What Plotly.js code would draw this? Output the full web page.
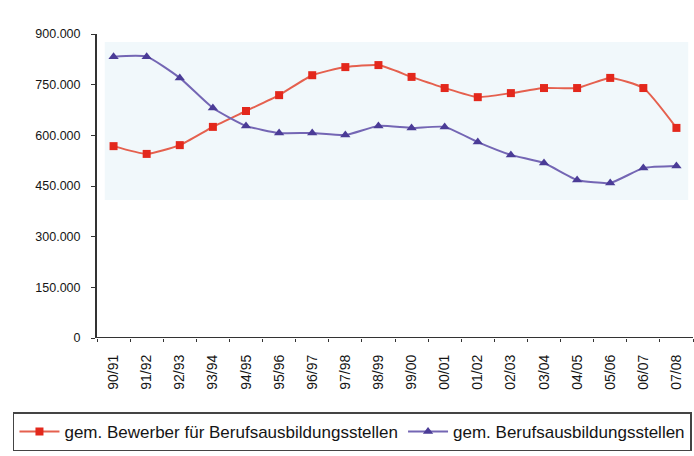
<!DOCTYPE html>
<html>
<head>
<meta charset="utf-8">
<script src="https://cdn.plot.ly/plotly-3.0.1.min.js"></script>
<style>html,body{margin:0;padding:0;background:#fff;}#chart{width:694px;height:456px;}</style>
</head>
<body>
<div id="chart"></div>
<script>
const categories = ["90/91","91/92","92/93","93/94","94/95","95/96","96/97","97/98","98/99","99/00","00/01","01/02","02/03","03/04","04/05","05/06","06/07","07/08"];
const bewerber = [568000,545000,571000,625000,672000,719000,778000,802000,808000,773000,740000,713000,725000,740000,740000,770000,740000,622000];
const stellen = [833000,833000,770000,681000,628000,607000,607000,601000,628000,622000,625000,580000,542000,518000,468000,459000,503000,509000];
const seriesNames = ["gem. Bewerber für Berufsausbildungsstellen","gem. Berufsausbildungsstellen"];
const yTicks = [0,150000,300000,450000,600000,750000,900000];

const font = {family: "Liberation Sans, Arial, sans-serif", size: 12, color: "#151515"};

const traces = [
  {x: categories, y: bewerber, name: seriesNames[0], type: "scatter", mode: "lines+markers",
   line: {color: "#e5604e", width: 2, shape: "spline", smoothing: 0.5},
   marker: {symbol: "square", size: 8, color: "#e3281c"}},
  {x: categories, y: stellen, name: seriesNames[1], type: "scatter", mode: "lines+markers",
   line: {color: "#7466b4", width: 2, shape: "spline", smoothing: 0.5},
   marker: {symbol: "triangle-up", size: 9, color: "#4b3c97"}}
];

const layout = {
  width: 694, height: 456,
  margin: {l: 97, r: 1, t: 34, b: 118},
  paper_bgcolor: "#fff", plot_bgcolor: "rgba(0,0,0,0)",
  font: font,
  separators: ",.",
  showlegend: true,
  legend: {orientation: "h", x: -0.141, xanchor: "left", y: -0.245, yanchor: "top",
           bordercolor: "#444", borderwidth: 1.5, font: {family: font.family, size: 17, color: "#151515"},
           itemwidth: 40, tracegroupgap: 0},
  xaxis: {type: "category", range: [-0.5, 17.5], showgrid: false, zeroline: false,
          showline: false, ticks: "outside", tickson: "boundaries", ticklen: 3, tickcolor: "#333",
          tickangle: -90, ticklabelstandoff: 13,
          tickfont: {family: font.family, size: 14, color: "#151515"}, fixedrange: true},
  yaxis: {range: [0, 900000], tickvals: yTicks, tickformat: ",d", showgrid: false, zeroline: false,
          showline: true, linecolor: "#333", linewidth: 2, ticks: "outside", ticklen: 4, tickcolor: "#333",
          ticklabelstandoff: 8,
          tickfont: {family: font.family, size: 12.5, color: "#151515"}, fixedrange: true},
  shapes: [
    {type: "rect", xref: "paper", yref: "paper", x0: 0.013, x1: 0.992, y0: 0.454, y1: 0.974,
     fillcolor: "#f1f8fb", line: {width: 0}, layer: "below"},
    {type: "line", xref: "paper", yref: "y", x0: 0, x1: 1, y0: 0, y1: 0,
     line: {color: "#333", width: 2}, layer: "above"}
  ]
};

Plotly.newPlot("chart", traces, layout, {displayModeBar: false, staticPlot: true});
</script>
</body>
</html>
